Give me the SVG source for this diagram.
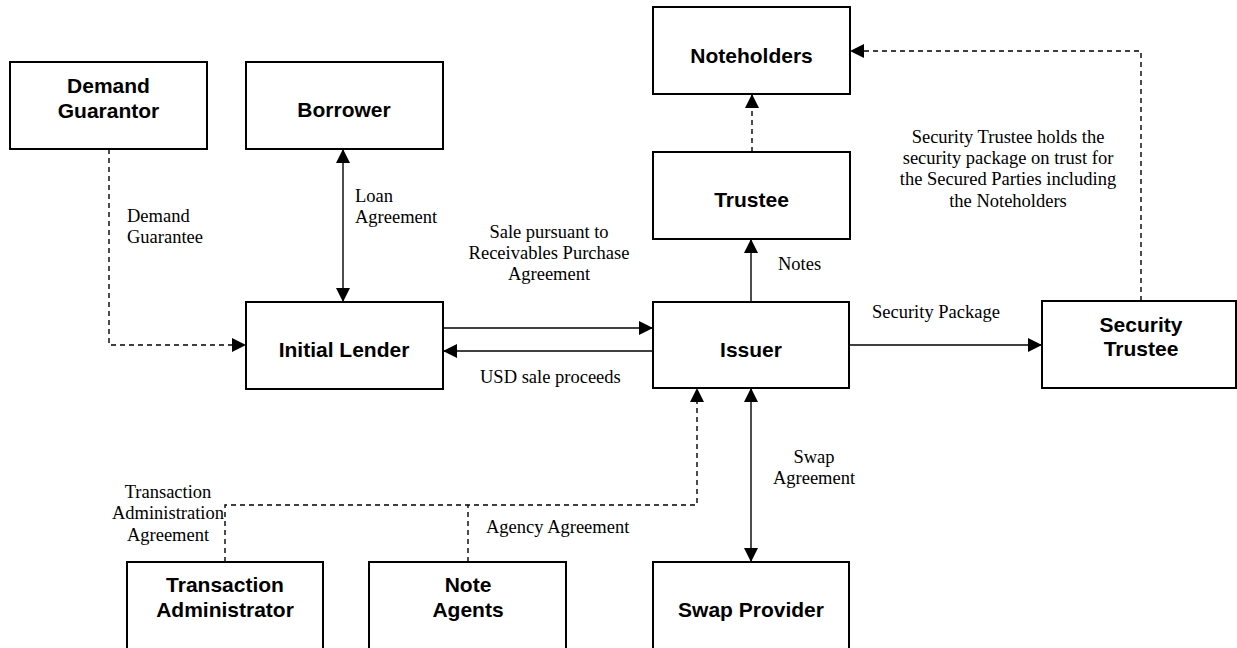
<svg xmlns="http://www.w3.org/2000/svg" width="1237" height="648" viewBox="0 0 1237 648">
<style>
.box{fill:#fff;stroke:#000;stroke-width:2}
.t{font-family:"Liberation Sans",Arial,sans-serif;font-weight:bold;font-size:21px;text-anchor:middle;fill:#000}
.l{font-family:"Liberation Serif","Times New Roman",serif;font-size:18.5px;fill:#000}
.c{text-anchor:middle}
.ln{fill:none;stroke:#000;stroke-width:1.4}
.d{stroke-dasharray:5 4}
</style>
<defs>
<marker id="ah" markerWidth="14" markerHeight="14" refX="14" refY="7" orient="auto" markerUnits="userSpaceOnUse">
<path d="M0,0 L14,7 L0,14 z" fill="#000"/>
</marker>
<marker id="as" markerWidth="14" markerHeight="14" refX="0" refY="7" orient="auto" markerUnits="userSpaceOnUse">
<path d="M14,0 L0,7 L14,14 z" fill="#000"/>
</marker>
</defs>
<g id="connectors">
<path class="ln d" d="M109,149 V345 H246" marker-end="url(#ah)"/>
<path class="ln" d="M343,149 V302" marker-start="url(#as)" marker-end="url(#ah)"/>
<path class="ln" d="M443,328 H653" marker-end="url(#ah)"/>
<path class="ln" d="M653,351 H443" marker-end="url(#ah)"/>
<path class="ln" d="M751,302 V239" marker-end="url(#ah)"/>
<path class="ln d" d="M752,152 V94" marker-end="url(#ah)"/>
<path class="ln" d="M849,345 H1042" marker-end="url(#ah)"/>
<path class="ln d" d="M1141,301 V51 H850" marker-end="url(#ah)"/>
<path class="ln" d="M751,388 V562" marker-start="url(#as)" marker-end="url(#ah)"/>
<path class="ln d" d="M225,562 V505 H697 V388" marker-end="url(#ah)"/>
<path class="ln d" d="M468,562 V505"/>
<text class="l" x="127" y="222">Demand</text>
<text class="l" x="127" y="243">Guarantee</text>
<text class="l" x="355" y="202">Loan</text>
<text class="l" x="355" y="223">Agreement</text>
<text class="l c" x="549" y="238">Sale pursuant to</text>
<text class="l c" x="549" y="259">Receivables Purchase</text>
<text class="l c" x="549" y="280">Agreement</text>
<text class="l" x="480" y="383">USD sale proceeds</text>
<text class="l" x="778" y="270">Notes</text>
<text class="l" x="872" y="318">Security Package</text>
<text class="l c" x="1008" y="143">Security Trustee holds the</text>
<text class="l c" x="1008" y="164">security package on trust for</text>
<text class="l c" x="1008" y="185">the Secured Parties including</text>
<text class="l c" x="1008" y="207">the Noteholders</text>
<text class="l c" x="814" y="463">Swap</text>
<text class="l c" x="814" y="484">Agreement</text>
<text class="l" x="486" y="533">Agency Agreement</text>
<text class="l c" x="168" y="498">Transaction</text>
<text class="l c" x="168" y="519">Administration</text>
<text class="l c" x="168" y="541">Agreement</text>
</g>
<g id="demand-guarantor"><rect class="box" x="10" y="62" width="197" height="87"/><text class="t" x="108.5" y="93">Demand</text><text class="t" x="108.5" y="118">Guarantor</text></g>
<g id="borrower"><rect class="box" x="246" y="62" width="197" height="87"/><text class="t" x="344" y="117">Borrower</text></g>
<g id="initial-lender"><rect class="box" x="246" y="302" width="197" height="87"/><text class="t" x="344" y="357">Initial Lender</text></g>
<g id="noteholders"><rect class="box" x="653" y="7" width="197" height="87"/><text class="t" x="751.5" y="63">Noteholders</text></g>
<g id="trustee"><rect class="box" x="653" y="152" width="197" height="87"/><text class="t" x="751.5" y="207">Trustee</text></g>
<g id="issuer"><rect class="box" x="653" y="302" width="196" height="86"/><text class="t" x="751" y="357">Issuer</text></g>
<g id="security-trustee"><rect class="box" x="1042" y="301" width="194" height="87"/><text class="t" x="1141" y="332">Security</text><text class="t" x="1141" y="356">Trustee</text></g>
<g id="transaction-administrator"><rect class="box" x="127" y="562" width="196" height="90"/><text class="t" x="225" y="592">Transaction</text><text class="t" x="225" y="617">Administrator</text></g>
<g id="note-agents"><rect class="box" x="369" y="562" width="197" height="90"/><text class="t" x="468" y="592">Note</text><text class="t" x="468" y="617">Agents</text></g>
<g id="swap-provider"><rect class="box" x="653" y="562" width="196" height="90"/><text class="t" x="751" y="617">Swap Provider</text></g>
</svg>
